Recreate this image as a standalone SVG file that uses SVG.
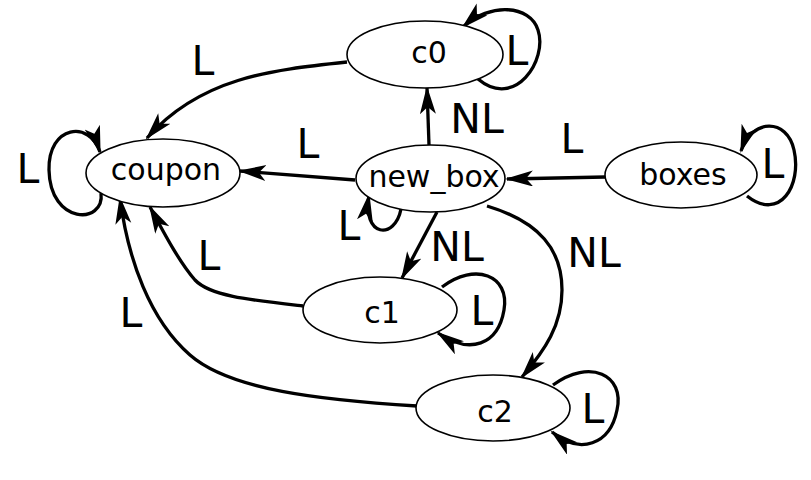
<svg xmlns="http://www.w3.org/2000/svg" width="811" height="480" viewBox="0 0 811 480">
<defs>
<style>
.node ellipse{fill:#fff;stroke:#000;stroke-width:1.6}
.node text{font-family:"DejaVu Sans",sans-serif;font-size:30px;text-anchor:middle;fill:#000}
.edges path{fill:none;stroke:#000;stroke-width:3.3}
.lbl{font-family:"DejaVu Sans",sans-serif;font-size:41px;text-anchor:middle;fill:#000}
</style>
<marker id="arr" markerUnits="userSpaceOnUse" markerWidth="30" markerHeight="18" viewBox="0 0 30 18" refX="26" refY="8" orient="auto">
<path d="M28,8 L0,0 L7,8 L0,16 z" fill="#000"/>
</marker>
</defs>
<rect width="811" height="480" fill="#fff"/>
<g id="connectors" class="edges">
<path id="e-c0-coupon" d="M347,62 C270,70 200,78 147,138" marker-end="url(#arr)"/>
<path id="e-c0-c0" d="M478,79 C515,110 548,60 538,30 C530,5 490,2 463,27" marker-end="url(#arr)"/>
<path id="e-newbox-c0" d="M429,145 L427,88" marker-end="url(#arr)"/>
<path id="e-newbox-coupon" d="M355,180 L240,171" marker-end="url(#arr)"/>
<path id="e-newbox-newbox" d="M401,209 C395,240 362,238 369,195" marker-end="url(#arr)"/>
<path id="e-boxes-newbox" d="M605,177 L507,179" marker-end="url(#arr)"/>
<path id="e-boxes-boxes" d="M747,196 C780,222 802,185 794,150 C787,118 752,118 741,151" marker-end="url(#arr)"/>
<path id="e-coupon-coupon" d="M101,193 C105,225 50,225 49,170 C48,125 90,120 100,152" marker-end="url(#arr)"/>
<path id="e-newbox-c1" d="M437,212 L402,278" marker-end="url(#arr)"/>
<path id="e-newbox-c2" d="M487,206 C540,222 562,250 562,290 C562,325 545,350 522,377" marker-end="url(#arr)"/>
<path id="e-c1-coupon" d="M303,306 C250,300 210,296 195,280 C180,263 165,235 150,207" marker-end="url(#arr)"/>
<path id="e-c2-coupon" d="M417,406 C320,400 230,390 190,355 C150,320 128,260 120,198" marker-end="url(#arr)"/>
<path id="e-c1-c1" d="M442,287 C475,262 510,275 504,310 C498,345 470,355 438,333" marker-end="url(#arr)"/>
<path id="e-c2-c2" d="M553,385 C590,358 625,375 617,410 C610,445 580,455 552,432" marker-end="url(#arr)"/>
</g>
<g id="edge-labels">
<text class="lbl" x="203" y="75">L</text>
<text class="lbl" x="517" y="65">L</text>
<text class="lbl" x="477" y="133">NL</text>
<text class="lbl" x="308" y="158">L</text>
<text class="lbl" x="572" y="153">L</text>
<text class="lbl" x="349" y="240">L</text>
<text class="lbl" x="773" y="178">L</text>
<text class="lbl" x="28" y="183">L</text>
<text class="lbl" x="457" y="261">NL</text>
<text class="lbl" x="594" y="267">NL</text>
<text class="lbl" x="209" y="270">L</text>
<text class="lbl" x="131" y="327">L</text>
<text class="lbl" x="482" y="325">L</text>
<text class="lbl" x="593" y="423">L</text>
</g>
<g id="node-c0" class="node"><ellipse cx="425" cy="54.5" rx="78" ry="33.5"/><text x="429" y="63">c0</text></g>
<g id="node-coupon" class="node"><ellipse cx="163" cy="173" rx="77" ry="34"/><text x="166" y="180">coupon</text></g>
<g id="node-new_box" class="node"><ellipse cx="430.5" cy="178.5" rx="74.5" ry="33.5"/><text x="434" y="187">new_box</text></g>
<g id="node-boxes" class="node"><ellipse cx="681" cy="175" rx="76" ry="33"/><text x="683" y="185">boxes</text></g>
<g id="node-c1" class="node"><ellipse cx="380" cy="310" rx="77" ry="33"/><text x="382" y="323">c1</text></g>
<g id="node-c2" class="node"><ellipse cx="493" cy="408" rx="77" ry="33"/><text x="495" y="422">c2</text></g>
</svg>
